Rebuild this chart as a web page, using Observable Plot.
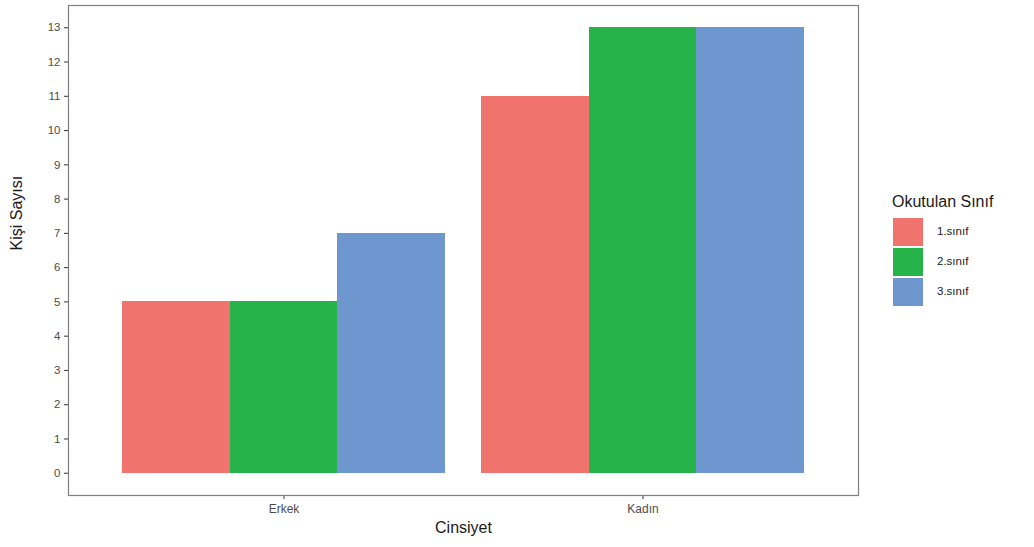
<!DOCTYPE html>
<html>
<head>
<meta charset="utf-8">
<script src="https://cdn.jsdelivr.net/npm/d3@7"></script>
<script src="https://cdn.jsdelivr.net/npm/@observablehq/plot@0.6"></script>
<style>
  html, body { margin: 0; padding: 0; background: #fff; }
  body { width: 1034px; height: 547px; overflow: hidden; font-family: "Liberation Sans", Arial, sans-serif; }
  #wrap { display: flex; flex-direction: row; align-items: flex-start; }
  #legend { position: relative; width: 164px; height: 547px; }
  .ltitle { position: absolute; left: 22px; top: 193px; font-size: 16px; color: #1a1a1a; white-space: nowrap; }
  .lkey { position: absolute; left: 23px; width: 30px; height: 28px; }
  .llab { position: absolute; left: 67px; font-size: 11.5px; color: #1a1a1a; }
</style>
</head>
<body>
<div id="wrap">
  <div id="chart"></div>
  <div id="legend"></div>
</div>
<script>
const genders = ["Erkek", "Kadın"];
const classes = ["1.sınıf", "2.sınıf", "3.sınıf"];
const erkekValues = [5, 5, 7];
const kadinValues = [11, 13, 13];
const colors = ["#F0736D", "#25B34A", "#6E96CF"];
const yTicks = [0,1,2,3,4,5,6,7,8,9,10,11,12,13];

const data = [];
classes.forEach((c, i) => data.push({gender: "Erkek", cls: c, n: erkekValues[i]}));
classes.forEach((c, i) => data.push({gender: "Kadın", cls: c, n: kadinValues[i]}));

const W = 870, ML = 68, MR = 12;
const xOpts = { domain: genders, paddingInner: 0.1, paddingOuter: 0.15 };
const bw = Plot.scale({ x: { type: "band", ...xOpts, range: [ML, W - MR] } }).bandwidth;
const sub = bw / classes.length;

const chart = Plot.plot({
  width: W,
  height: 547,
  marginLeft: ML,
  marginRight: MR,
  marginTop: 5,
  marginBottom: 52,
  style: { fontFamily: "Liberation Sans, Arial, sans-serif", background: "#fff" },
  x: { ...xOpts, label: null, axis: null },
  y: { domain: [-0.65, 13.65], label: null, axis: null },
  color: { domain: classes, range: colors },
  marks: [
    ...classes.map((c, i) => Plot.barY(data.filter(d => d.cls === c), {
      x: "gender", y1: 0, y2: "n", fill: "cls", shapeRendering: "crispEdges",
      insetLeft: i * sub, insetRight: (classes.length - 1 - i) * sub
    })),
    Plot.axisY({ ticks: yTicks, tickSize: 4, tickPadding: 4, stroke: "#333", fill: "#4d4d4d", fontSize: 11.5, label: null }),
    Plot.axisX({ anchor: "bottom", tickSize: 4, tickPadding: 5, stroke: "#333", fill: "#4d4d4d", fontSize: 12, label: null }),
    Plot.frame({ stroke: "#7f7f7f", strokeWidth: 1.2 }),
    Plot.text(["Cinsiyet"], { frameAnchor: "bottom", dy: 37, fontSize: 16, fill: "#1a1a1a" }),
    Plot.text(["Kişi Sayısı"], { frameAnchor: "left", dx: -52, rotate: -90, fontSize: 16, fill: "#1a1a1a" })
  ]
});
document.getElementById("chart").appendChild(chart);

const legend = document.getElementById("legend");
const t = document.createElement("div");
t.className = "ltitle";
t.textContent = "Okutulan Sınıf";
legend.appendChild(t);
classes.forEach((c, i) => {
  const k = document.createElement("div");
  k.className = "lkey";
  k.style.top = (218 + i * 30) + "px";
  k.style.background = colors[i];
  legend.appendChild(k);
  const l = document.createElement("div");
  l.className = "llab";
  l.style.top = (225 + i * 30) + "px";
  l.textContent = c;
  legend.appendChild(l);
});
</script>
</body>
</html>
